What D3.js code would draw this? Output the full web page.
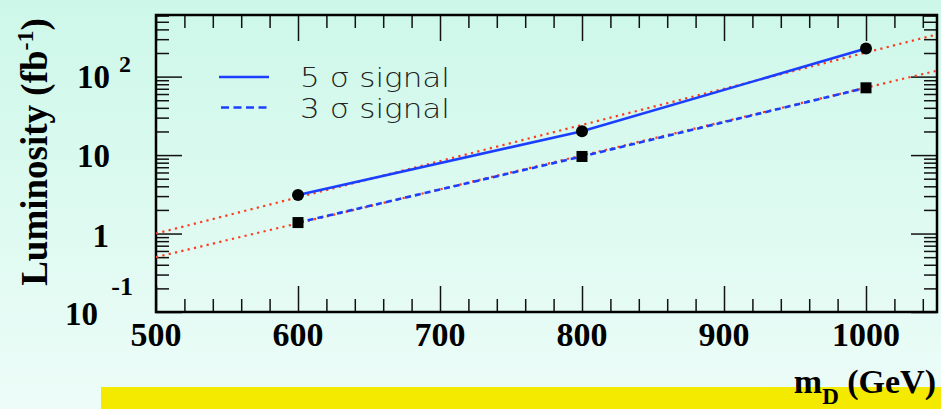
<!DOCTYPE html>
<html>
<head>
<meta charset="utf-8">
<script src="https://cdn.jsdelivr.net/npm/d3@7"></script>
<style>
  html, body { margin: 0; padding: 0; }
  svg { display: block; }
</style>
</head>
<body>
<div id="chart"></div>
<script>
// --- Data ---
const massPoints = [600, 800, 1000];          // m_D (GeV)
const lumi5sigma = [3.1, 20.1, 228];          // fb^-1
const lumi3sigma = [1.38, 9.6, 72];
const fitMass = [500, 1050];                  // exponential fits (straight on log axis)
const fit5sigma = [1.0, 345];
const fit3sigma = [0.50, 119];
const xTickLabels = [500, 600, 700, 800, 900, 1000];
const legendLabels = ["5 \u03c3 signal", "3 \u03c3 signal"];

// --- Layout ---
const width = 941, height = 409;
const plot = { left: 156, right: 937, top: 15, bottom: 312 };

const svg = d3.select("#chart").append("svg")
  .attr("width", width)
  .attr("height", height);

// background gradient
const defs = svg.append("defs");
const grad = defs.append("linearGradient")
  .attr("id", "bg").attr("x1", 0).attr("y1", 0).attr("x2", 0).attr("y2", 1);
grad.append("stop").attr("offset", "0%").attr("stop-color", "#cdf8e9");
grad.append("stop").attr("offset", "100%").attr("stop-color", "#edfcf8");
svg.append("rect").attr("width", width).attr("height", height).attr("fill", "url(#bg)");

// yellow band at bottom
svg.append("rect")
  .attr("x", 101).attr("y", 387)
  .attr("width", width - 101).attr("height", height - 387)
  .attr("fill", "#f4ea00");

// --- Scales ---
const x = d3.scaleLinear().domain([500, 1050]).range([plot.left, plot.right]);
const y = d3.scaleLog().domain([0.1, 610]).range([plot.bottom, plot.top]);

// tick values
const xMajor = d3.range(500, 1051, 100);
const xMinor = d3.range(500, 1051, 20).filter(v => v % 100 !== 0);
const yMajor = [0.1, 1, 10, 100];
const yMinor = [];
[0.1, 1, 10, 100].forEach(d => {
  for (let k = 2; k <= 9; k++) if (d * k <= 610) yMinor.push(d * k);
});

function styleAxis(g) {
  g.select(".domain").remove();
  g.selectAll(".tick line").attr("stroke", "#111").attr("stroke-width", 1.5);
  g.selectAll(".tick text").remove();
}

// ticks on all four sides, pointing inward
const axes = [
  [d3.axisBottom, x, xMajor, 26, `translate(0,${plot.bottom})`],
  [d3.axisBottom, x, xMinor, 13, `translate(0,${plot.bottom})`],
  [d3.axisTop, x, xMajor, 26, `translate(0,${plot.top})`],
  [d3.axisTop, x, xMinor, 13, `translate(0,${plot.top})`],
  [d3.axisLeft, y, yMajor, 26, `translate(${plot.left},0)`],
  [d3.axisLeft, y, yMinor, 13, `translate(${plot.left},0)`],
  [d3.axisRight, y, yMajor, 26, `translate(${plot.right},0)`],
  [d3.axisRight, y, yMinor, 13, `translate(${plot.right},0)`]
];
axes.forEach(([fn, sc, vals, len, tr]) => {
  svg.append("g")
    .attr("transform", tr)
    .call(fn(sc).tickValues(vals).tickSize(-len).tickFormat(""))
    .call(styleAxis);
});

// frame
svg.append("rect")
  .attr("x", plot.left).attr("y", plot.top)
  .attr("width", plot.right - plot.left).attr("height", plot.bottom - plot.top)
  .attr("fill", "none").attr("stroke", "#000").attr("stroke-width", 2.5);

// --- Tick labels ---
const serif = "'Liberation Serif', 'Times New Roman', serif";

svg.append("g").selectAll("text")
  .data(xTickLabels)
  .join("text")
  .attr("x", d => x(d))
  .attr("y", 346)
  .attr("text-anchor", "middle")
  .attr("font-family", serif)
  .attr("font-weight", "bold")
  .attr("font-size", 34)
  .attr("fill", "#000")
  .text(d => d);

const yLab = svg.append("g")
  .attr("font-family", serif)
  .attr("font-weight", "bold")
  .attr("fill", "#000");

// 10^2
yLab.append("text").attr("x", 110).attr("y", y(100) + 11)
  .attr("text-anchor", "end").attr("font-size", 33).text("10");
yLab.append("text").attr("x", 119).attr("y", y(100) - 5)
  .attr("font-size", 24).text("2");
// 10
yLab.append("text").attr("x", 110).attr("y", y(10) + 12)
  .attr("text-anchor", "end").attr("font-size", 33).text("10");
// 1
yLab.append("text").attr("x", 109).attr("y", y(1) + 13)
  .attr("text-anchor", "end").attr("font-size", 33).text("1");
// 10^-1 (exponent above-right, base below-left)
yLab.append("text").attr("x", 133).attr("y", y(0.1) - 17)
  .attr("text-anchor", "end").attr("font-size", 26).text("-1");
yLab.append("text").attr("x", 98).attr("y", y(0.1) + 13)
  .attr("text-anchor", "end").attr("font-size", 33).text("10");

// --- Axis titles ---
const yTitle = svg.append("text")
  .attr("transform", "translate(47,152) rotate(-90)")
  .attr("text-anchor", "middle")
  .attr("font-family", serif)
  .attr("font-weight", "bold")
  .attr("font-size", 37)
  .attr("fill", "#000");
yTitle.append("tspan").text("Luminosity (fb");
yTitle.append("tspan").attr("font-size", 24).attr("dy", -14).text("-1");
yTitle.append("tspan").attr("dy", 14).text(")");

const xTitle = svg.append("text")
  .attr("x", 936).attr("y", 393)
  .attr("text-anchor", "end")
  .attr("font-family", serif)
  .attr("font-weight", "bold")
  .attr("font-size", 34)
  .attr("fill", "#000");
xTitle.append("tspan").text("m");
xTitle.append("tspan").attr("font-size", 23).attr("dy", 11).text("D");
xTitle.append("tspan").attr("dy", -11).text(" (GeV)");

// --- Fit lines (red dotted) ---
const line = d3.line().x(d => x(d[0])).y(d => y(d[1]));

[fit5sigma, fit3sigma].forEach(fit => {
  svg.append("path")
    .datum(fitMass.map((m, i) => [m, fit[i]]))
    .attr("d", line)
    .attr("fill", "none")
    .attr("stroke", "#ff3b1e")
    .attr("stroke-width", 2.2)
    .attr("stroke-dasharray", "2.2,4.3");
});

// --- Signal lines (blue) ---
const blue = "#1c3fff";
svg.append("path")
  .datum(massPoints.map((m, i) => [m, lumi5sigma[i]]))
  .attr("d", line)
  .attr("fill", "none")
  .attr("stroke", blue)
  .attr("stroke-width", 2.6);

svg.append("path")
  .datum(massPoints.map((m, i) => [m, lumi3sigma[i]]))
  .attr("d", line)
  .attr("fill", "none")
  .attr("stroke", blue)
  .attr("stroke-width", 2.6)
  .attr("stroke-dasharray", "6,4");

// --- Markers ---
svg.append("g").selectAll("circle")
  .data(massPoints.map((m, i) => [m, lumi5sigma[i]]))
  .join("circle")
  .attr("cx", d => x(d[0]))
  .attr("cy", d => y(d[1]))
  .attr("r", 6)
  .attr("fill", "#000");

svg.append("g").selectAll("rect")
  .data(massPoints.map((m, i) => [m, lumi3sigma[i]]))
  .join("rect")
  .attr("x", d => x(d[0]) - 5.5)
  .attr("y", d => y(d[1]) - 5.5)
  .attr("width", 11)
  .attr("height", 11)
  .attr("fill", "#000");

// --- Legend ---
const legend = svg.append("g");
legend.append("line")
  .attr("x1", 219).attr("x2", 269).attr("y1", 77).attr("y2", 77)
  .attr("stroke", blue).attr("stroke-width", 2.6);
legend.append("line")
  .attr("x1", 221).attr("x2", 269).attr("y1", 107.5).attr("y2", 107.5)
  .attr("stroke", blue).attr("stroke-width", 2.6)
  .attr("stroke-dasharray", "8,4.5");

legend.selectAll("text")
  .data(legendLabels)
  .join("text")
  .attr("x", 300)
  .attr("y", (d, i) => 87 + i * 30.5)
  .attr("font-family", "'DejaVu Sans', sans-serif")
  .attr("font-weight", 200)
  .attr("font-size", 26)
  .attr("textLength", 150)
  .attr("lengthAdjust", "spacingAndGlyphs")
  .attr("fill", "#222")
  .text(d => d);
</script>
</body>
</html>
